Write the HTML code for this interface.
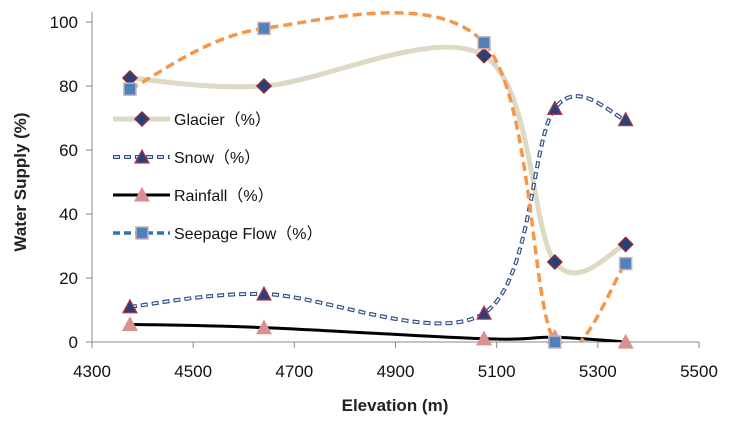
<!DOCTYPE html>
<html><head><meta charset="utf-8"><style>
body{margin:0;background:#fff;}
svg{display:block;font-family:"Liberation Sans","Noto Sans CJK SC",sans-serif;}
</style></head><body>
<svg id="chart" width="737" height="426">
<defs><clipPath id="plotclip"><rect x="92" y="0" width="620" height="342"/></clipPath></defs>
<g id="axes"></g>
<g id="series" clip-path="url(#plotclip)"></g>
<g id="markers"></g>
<g id="legend"></g>
<text x="395" y="411" text-anchor="middle" font-size="17" font-weight="bold" fill="#222">Elevation (m)</text>
<text transform="translate(26,182) rotate(-90)" text-anchor="middle" font-size="17" font-weight="bold" fill="#222">Water Supply (%)</text>
</svg>
<script>
const elevations=[4375,4640,5075,5215,5355];
const glacier=[82.5,80,89.5,25,30.5];
const snow=[11,15,9,73,69.5];
const rainfall=[5.5,4.5,1,1.5,0];
const seepage=[79,98,93.5,0,24.5];
const xTicks=[4300,4500,4700,4900,5100,5300,5500];
const yTicks=[0,20,40,60,80,100];
const NS='http://www.w3.org/2000/svg';
const X=v=>92+(v-4300)/1200*607;
const Y=v=>342-v*3.2;
function mk(tag,attrs,parent){const e=document.createElementNS(NS,tag);for(const k in attrs)e.setAttribute(k,attrs[k]);parent.appendChild(e);return e;}
const axes=document.getElementById('axes'),series=document.getElementById('series'),markers=document.getElementById('markers'),legend=document.getElementById('legend');
let a=mk('line',{x1:92,y1:12,x2:92,y2:342,stroke:'#888','stroke-width':1},axes);


a=mk('line',{x1:92,y1:342,x2:699,y2:342,stroke:'#888','stroke-width':1},axes);


xTicks.forEach(t=>{
  mk('line',{x1:X(t),y1:342,x2:X(t),y2:348,stroke:'#888'},axes);
  const tx=mk('text',{x:X(t),y:377,'text-anchor':'middle','font-size':17,fill:'#111'},axes);
  tx.textContent=t;
  
  
});
yTicks.forEach(t=>{
  mk('line',{x1:86,y1:Y(t),x2:92,y2:Y(t),stroke:'#888'},axes);
  const tx=mk('text',{x:78,y:Y(t)+6,'text-anchor':'end','font-size':17,fill:'#111'},axes);
  tx.textContent=t;
  
  
});
function smooth(vals){
  const p=elevations.map((e,i)=>[X(e),Y(vals[i])]);
  let d='M'+p[0][0]+','+p[0][1];
  for(let i=0;i<p.length-1;i++){
    const p0=p[Math.max(i-1,0)],p1=p[i],p2=p[i+1],p3=p[Math.min(i+2,p.length-1)];
    const c1=[p1[0]+(p2[0]-p0[0])/6,p1[1]+(p2[1]-p0[1])/6];
    const c2=[p2[0]-(p3[0]-p1[0])/6,p2[1]-(p3[1]-p1[1])/6];
    d+=' C'+c1+' '+c2+' '+p2;
  }
  return d;
}
let s;
s=mk('path',{d:smooth(glacier),fill:'none',stroke:'#ddd9c4','stroke-width':5},series);


s=mk('path',{d:smooth(snow),fill:'none',stroke:'#2f4f8a','stroke-width':4,'stroke-dasharray':'7,4'},series);


mk('path',{d:smooth(snow),fill:'none',stroke:'#fff','stroke-width':1.6,'stroke-dasharray':'5,6','stroke-dashoffset':'-1'},series);
s=mk('path',{d:smooth(rainfall),fill:'none',stroke:'#000','stroke-width':3},series);


s=mk('path',{d:smooth(seepage),fill:'none',stroke:'#f79646','stroke-width':3.5,'stroke-dasharray':'9,5'},series);


function diamond(x,y,g){return mk('path',{d:`M${x},${y-7}L${x+7},${y}L${x},${y+7}L${x-7},${y}Z`,fill:'#254379',stroke:'#8b2a3a','stroke-width':1.5},g);}
function tri(x,y,fill,stroke,g){return mk('path',{d:`M${x},${y-7}L${x+7},${y+6}L${x-7},${y+6}Z`,fill:fill,stroke:stroke,'stroke-width':1.2},g);}
function sq(x,y,g){return mk('rect',{x:x-6,y:y-6,width:12,height:12,fill:'#4f81bd',stroke:'#c9b0bb','stroke-width':1.5},g);}
elevations.forEach((e,i)=>{
  let m=diamond(X(e),Y(glacier[i]),markers);
  
  
  m=tri(X(e),Y(snow[i]),'#2b3f7a','#b23a48',markers);
  
  
  m=tri(X(e),Y(rainfall[i]),'#d99090','#d99090',markers);
  
  
  m=sq(X(e),Y(seepage[i]),markers);
  
  
});
const names=['Glacier（%）','Snow（%）','Rainfall（%）','Seepage Flow（%）'];
names.forEach((n,i)=>{
  const y=119+i*38;
  const g=mk('g',{},legend);
  
  
  if(i===0){mk('line',{x1:113,y1:y,x2:170,y2:y,stroke:'#ddd9c4','stroke-width':5},g);diamond(142,y,g);}
  if(i===1){mk('line',{x1:113,y1:y,x2:170,y2:y,stroke:'#2f4f8a','stroke-width':4,'stroke-dasharray':'7,4'},g);mk('line',{x1:113,y1:y,x2:170,y2:y,stroke:'#fff','stroke-width':1.6,'stroke-dasharray':'5,6','stroke-dashoffset':'-1'},g);tri(142,y,'#2b3f7a','#b23a48',g);}
  if(i===2){mk('line',{x1:113,y1:y,x2:170,y2:y,stroke:'#000','stroke-width':3},g);tri(142,y,'#d99090','#d99090',g);}
  if(i===3){mk('line',{x1:113,y1:y,x2:170,y2:y,stroke:'#2e75b6','stroke-width':3.5,'stroke-dasharray':'7,4'},g);sq(142,y,g);}
  const t=mk('text',{x:174,y:y+6,'font-size':16,fill:'#111'},g);
  t.textContent=n;
});
</script>
</body></html>
